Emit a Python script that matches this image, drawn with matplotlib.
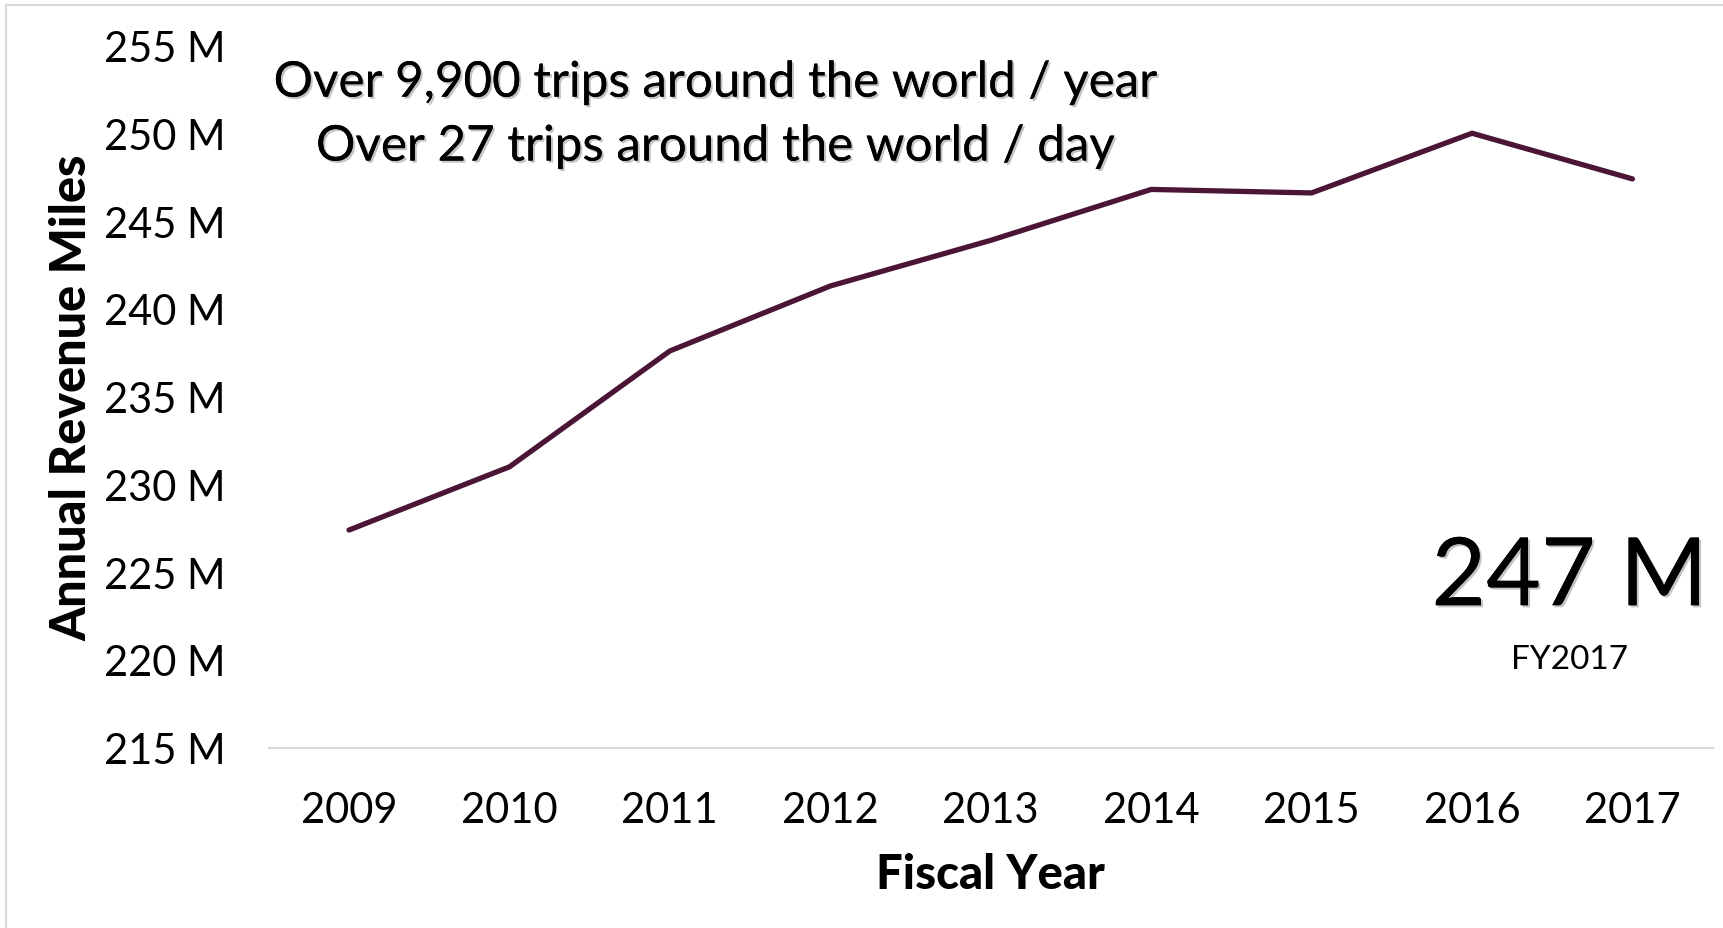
import matplotlib
matplotlib.use("Agg")
import matplotlib.pyplot as plt
import matplotlib.patheffects as pe
from matplotlib.lines import Line2D

# Annual revenue miles by fiscal year (millions)
years = ["2009", "2010", "2011", "2012", "2013", "2014", "2015", "2016", "2017"]
miles = [227.4, 231.0, 237.6, 241.3, 243.9, 246.8, 246.6, 250.0, 247.4]

y_ticks = [215, 220, 225, 230, 235, 240, 245, 250, 255]
y_tick_labels = [f"{v} M" for v in y_ticks]

headline = "247 M"
headline_sub = "FY2017"
note_lines = ["Over 9,900 trips around the world / year",
              "Over 27 trips around the world / day"]

plt.rcParams['font.family'] = ['Lato', 'DejaVu Sans']

fig = plt.figure(figsize=(17.23, 9.29), dpi=100)
ax = fig.add_axes([0.156, 0.194, 0.838, 0.756])

x = list(range(len(years)))
ax.plot(x, miles, color='#4b1535', linewidth=3.8, solid_capstyle='round',
        solid_joinstyle='round', clip_on=False)

ax.set_xlim(-0.5, len(years) - 0.5)
ax.set_ylim(215, 255)
ax.set_yticks(y_ticks)
ax.set_yticklabels(y_tick_labels)
ax.set_xticks(x)
ax.set_xticklabels(years)
ax.tick_params(axis='y', length=0, pad=31, labelsize=30)
ax.tick_params(axis='x', length=0, pad=31, labelsize=30)

for s in ['top', 'right', 'left']:
    ax.spines[s].set_visible(False)
ax.spines['bottom'].set_color('#d9d9d9')
ax.spines['bottom'].set_linewidth(1.5)

ax.set_ylabel("Annual Revenue Miles", fontsize=35, fontweight='black', labelpad=7)
ax.set_xlabel("Fiscal Year", fontsize=34, fontweight='black', labelpad=17)

shadow = [pe.withSimplePatchShadow(offset=(1.5, -1.5), shadow_rgbFace='#888888', alpha=0.5),
          pe.Normal()]
ax.text(0.309, 0.947, note_lines[0], transform=ax.transAxes, fontsize=35.5,
        ha='center', va='center', path_effects=shadow)
ax.text(0.309, 0.856, note_lines[1], transform=ax.transAxes, fontsize=35.5,
        ha='center', va='center', path_effects=shadow)

ax.text(0.901, 0.24, headline, transform=ax.transAxes, fontsize=68,
        ha='center', va='center', path_effects=shadow)
ax.text(0.901, 0.127, headline_sub, transform=ax.transAxes, fontsize=24,
        ha='center', va='center')

# light frame on top and left edges
fig.add_artist(Line2D([6 / 1723, 1], [1 - 6 / 929, 1 - 6 / 929], transform=fig.transFigure,
                      color='#d9d9d9', linewidth=1.5))
fig.add_artist(Line2D([6 / 1723, 6 / 1723], [0, 1 - 6 / 929], transform=fig.transFigure,
                      color='#d9d9d9', linewidth=1.5))

fig.savefig("out.png", dpi=100)
